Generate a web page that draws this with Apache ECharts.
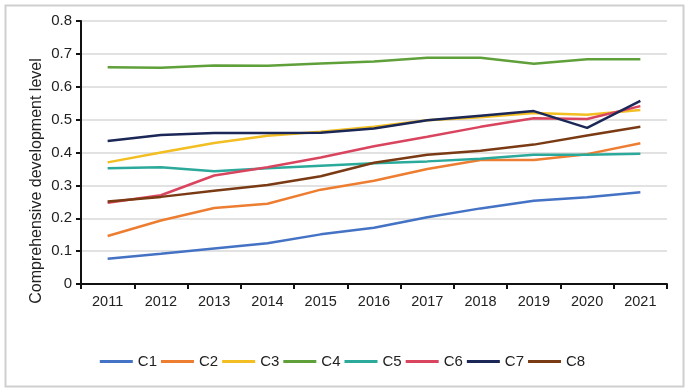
<!DOCTYPE html>
<html>
<head>
<meta charset="utf-8">
<script src="https://cdn.jsdelivr.net/npm/echarts@6/dist/echarts.min.js"></script>
<style>
  html, body { margin: 0; padding: 0; background: #fff; }
  #chart { width: 685px; height: 388px; }
</style>
</head>
<body>
<div id="chart"></div>
<script>
var years = ['2011', '2012', '2013', '2014', '2015', '2016', '2017', '2018', '2019', '2020', '2021'];
var names = ['C1', 'C2', 'C3', 'C4', 'C5', 'C6', 'C7', 'C8'];

var c1 = [0.077, 0.092, 0.108, 0.124, 0.151, 0.171, 0.203, 0.230, 0.253, 0.264, 0.279];
var c2 = [0.146, 0.193, 0.231, 0.244, 0.287, 0.314, 0.350, 0.377, 0.377, 0.395, 0.428];
var c3 = [0.370, 0.400, 0.429, 0.451, 0.463, 0.478, 0.498, 0.507, 0.520, 0.515, 0.529];
var c4 = [0.659, 0.658, 0.665, 0.664, 0.671, 0.677, 0.688, 0.688, 0.670, 0.684, 0.684];
var c5 = [0.352, 0.355, 0.343, 0.352, 0.360, 0.367, 0.373, 0.381, 0.393, 0.393, 0.396];
var c6 = [0.247, 0.270, 0.330, 0.355, 0.385, 0.419, 0.448, 0.478, 0.504, 0.502, 0.541];
var c7 = [0.435, 0.453, 0.459, 0.459, 0.460, 0.473, 0.498, 0.512, 0.526, 0.475, 0.557];
var c8 = [0.251, 0.265, 0.284, 0.301, 0.328, 0.369, 0.393, 0.405, 0.424, 0.452, 0.478];

var yTicks = [0, 0.1, 0.2, 0.3, 0.4, 0.5, 0.6, 0.7, 0.8];

var allData = [c1, c2, c3, c4, c5, c6, c7, c8];
var colors = ['#4472C4', '#ED7D31', '#F2BE22', '#5FA03A', '#2BA99B', '#D9455F', '#1B2757', '#7A3B14'];

var chart = echarts.init(document.getElementById('chart'));

var series = names.map(function (n, i) {
    return {
        name: n,
        type: 'line',
        data: allData[i],
        symbol: 'none',
        smooth: false,
        lineStyle: { width: 2.5, color: colors[i] },
        itemStyle: { color: colors[i] }
    };
});

var option = {
    backgroundColor: '#fff',
    textStyle: { fontFamily: 'Liberation Sans, Arial, sans-serif' },
    grid: { left: 81, right: 18, top: 21, bottom: 104 },
    legend: {
        bottom: 14,
        left: 'center',
        itemWidth: 33,
        itemHeight: 10,
        itemGap: 4,
        icon: 'path://M0,0 L33,0 L33,3 L0,3 Z',
        textStyle: { fontSize: 15, color: '#222' },
        data: names
    },
    graphic: [{
        type: 'rect',
        left: 3, top: 3,
        shape: { width: 678, height: 381 },
        style: { fill: 'none', stroke: '#cfcfcf', lineWidth: 2 },
        silent: true
    }, {
        type: 'text',
        x: 37, y: 181,
        rotation: Math.PI / 2,
        style: {
            text: 'Comprehensive development level',
            fontSize: 16,
            fill: '#222',
            fontFamily: 'Liberation Sans, Arial, sans-serif',
            textAlign: 'center',
            textVerticalAlign: 'middle'
        }
    }],
    xAxis: {
        type: 'category',
        data: years,
        boundaryGap: true,
        axisLine: { lineStyle: { color: '#111', width: 2 } },
        axisTick: { show: true, length: 5, inside: false, lineStyle: { color: '#111', width: 2 } },
        axisLabel: { fontSize: 14.5, color: '#222', margin: 10, interval: 0 }
    },
    yAxis: {
        type: 'value',
        min: 0,
        max: 0.8,
        interval: 0.1,
        axisLine: { show: true, lineStyle: { color: '#111', width: 2 } },
        axisTick: { show: true, length: 5, lineStyle: { color: '#111', width: 2 } },
        axisLabel: {
            fontSize: 15, color: '#222', margin: 9,
            formatter: function (v) {
                var t = yTicks.find(function (k) { return Math.abs(k - v) < 1e-9; });
                return t === 0 ? '0' : (t !== undefined ? t.toFixed(1) : '');
            }
        },
        splitLine: { show: true, lineStyle: { color: '#d9d9d9', width: 1.5 } }
    },
    series: series
};

chart.setOption(option);
</script>
</body>
</html>
